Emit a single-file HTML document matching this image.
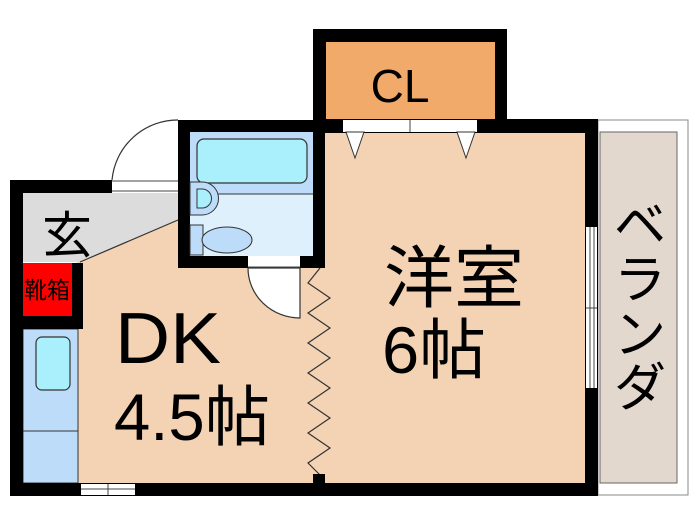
<!DOCTYPE html>
<html><head><meta charset="utf-8"><style>
html,body{margin:0;padding:0;background:#fff;}
svg{display:block;}
text{font-family:"Liberation Sans","Noto Sans CJK JP",sans-serif;fill:#000;}
</style></head><body>
<svg width="700" height="525" viewBox="0 0 700 525" xmlns="http://www.w3.org/2000/svg">
<!-- balcony -->
<rect x="598" y="120" width="90" height="375" fill="#fff" stroke="#888" stroke-width="1"/>
<rect x="600" y="132" width="77" height="351" fill="#e3d8cd" stroke="#666" stroke-width="1"/>
<!-- floor DK / room -->
<rect x="77" y="190" width="510" height="295" fill="#f3d3b4"/>
<rect x="325" y="130" width="262" height="70" fill="#f3d3b4"/>
<!-- genkan grey -->
<polygon points="23,193 178,193 178,220 80,262 23,262" fill="#dcdcdc"/>
<line x1="178" y1="220" x2="80" y2="262" stroke="#333" stroke-width="1.2"/>
<!-- kitchen -->
<rect x="23" y="329" width="55" height="154" fill="#bcdcf9" stroke="#333" stroke-width="1"/>
<line x1="23" y1="431" x2="78" y2="431" stroke="#333" stroke-width="1"/>
<rect x="36" y="337" width="34" height="53" rx="6" fill="#aaf0fc" stroke="#333" stroke-width="1.2"/>
<!-- outer walls left -->
<rect x="10" y="180" width="13" height="316" fill="#000"/>
<rect x="10" y="180" width="102" height="13" fill="#000"/>
<rect x="112" y="180" width="66" height="13" fill="#fff"/>
<line x1="112" y1="181" x2="178" y2="181" stroke="#444" stroke-width="1"/>
<line x1="112" y1="191" x2="178" y2="191" stroke="#444" stroke-width="1"/>
<path d="M112,180 A66,66 0 0 1 178,120" fill="none" stroke="#333" stroke-width="1.2"/>
<!-- shoe box -->
<rect x="23" y="263" width="60" height="66" fill="#000"/>
<rect x="23" y="263" width="49" height="53" fill="#ff0000"/>
<text x="47" y="298" font-size="23" text-anchor="middle" textLength="46" lengthAdjust="spacingAndGlyphs">靴箱</text>
<!-- bath -->
<rect x="178" y="120" width="147" height="148" fill="#000"/>
<rect x="190" y="132" width="123" height="124" fill="#dff0fd"/>
<rect x="190" y="132" width="123" height="62" fill="#bcdcf9"/>
<line x1="190" y1="194" x2="313" y2="194" stroke="#333" stroke-width="1"/>
<rect x="197" y="139" width="110" height="44" rx="7" fill="#aaf0fc" stroke="#333" stroke-width="1.2"/>
<path d="M190,182 L202,182 A16,16 0 0 1 202,215 L190,215 Z" fill="#bcdcf9" stroke="#333" stroke-width="1"/>
<path d="M197,189 L202,189 A9,9 0 0 1 202,208 L197,208 Z" fill="#aaf0fc" stroke="#333" stroke-width="1"/>
<rect x="190" y="225" width="13" height="30" fill="#bcdcf9" stroke="#333" stroke-width="1"/>
<ellipse cx="227" cy="240" rx="25" ry="13" fill="#bcdcf9" stroke="#333" stroke-width="1"/>
<!-- bath door -->
<rect x="248" y="256" width="52" height="12" fill="#fff"/>
<line x1="248" y1="267" x2="300" y2="267" stroke="#444" stroke-width="1"/>
<path d="M248,268 A52,50 0 0 0 300,318 L300,268 Z" fill="#fff" stroke="#333" stroke-width="1.2"/>
<!-- zigzag -->
<polyline points="320,268 308,283 330,298 308,313 330,328 308,343 330,358 308,373 330,388 308,403 330,418 308,433 330,448 308,463 320,475" fill="none" stroke="#333" stroke-width="1.2"/>
<rect x="313" y="474" width="12" height="10" fill="#000"/>
<!-- CL -->
<rect x="313" y="29" width="194" height="104" fill="#000"/>
<rect x="326" y="42" width="169" height="77" fill="#f2aa6a"/>
<text x="400" y="102" font-size="46" text-anchor="middle">CL</text>
<!-- main room top wall -->
<rect x="313" y="119" width="285" height="14" fill="#000"/>
<rect x="343" y="120" width="134" height="12" fill="#fff"/>
<line x1="410" y1="120" x2="410" y2="132" stroke="#444" stroke-width="1"/>
<polygon points="346,132 364,132 355,158" fill="#fff" stroke="#333" stroke-width="1"/>
<polygon points="457,132 475,132 466,158" fill="#fff" stroke="#333" stroke-width="1"/>
<!-- right wall -->
<rect x="585" y="119" width="13" height="377" fill="#000"/>
<rect x="586" y="227" width="11" height="161" fill="#fff"/>
<line x1="590" y1="227" x2="590" y2="388" stroke="#444" stroke-width="1"/>
<line x1="594" y1="227" x2="594" y2="388" stroke="#444" stroke-width="1"/>
<line x1="586" y1="308" x2="597" y2="308" stroke="#444" stroke-width="1"/>
<!-- bottom wall -->
<rect x="10" y="483" width="588" height="13" fill="#000"/>
<rect x="81" y="484" width="54" height="11" fill="#fff"/>
<line x1="81" y1="489" x2="135" y2="489" stroke="#444" stroke-width="1"/>
<line x1="108" y1="484" x2="108" y2="495" stroke="#444" stroke-width="1"/>
<!-- labels -->
<text x="67" y="253" font-size="50" text-anchor="middle">玄</text>
<text x="115" y="363" font-size="72" textLength="106" lengthAdjust="spacingAndGlyphs">DK</text>
<text x="114" y="440" font-size="66" textLength="156" lengthAdjust="spacingAndGlyphs">4.5帖</text>
<text x="384" y="302" font-size="68" textLength="140" lengthAdjust="spacingAndGlyphs">洋室</text>
<text x="382" y="373" font-size="66" textLength="104" lengthAdjust="spacingAndGlyphs">6帖</text>
<text x="640" y="243" font-size="52" text-anchor="middle">ベ</text>
<text x="640" y="298" font-size="52" text-anchor="middle">ラ</text>
<text x="640" y="353" font-size="52" text-anchor="middle">ン</text>
<text x="640" y="406" font-size="52" text-anchor="middle">ダ</text>
</svg>
</body></html>
